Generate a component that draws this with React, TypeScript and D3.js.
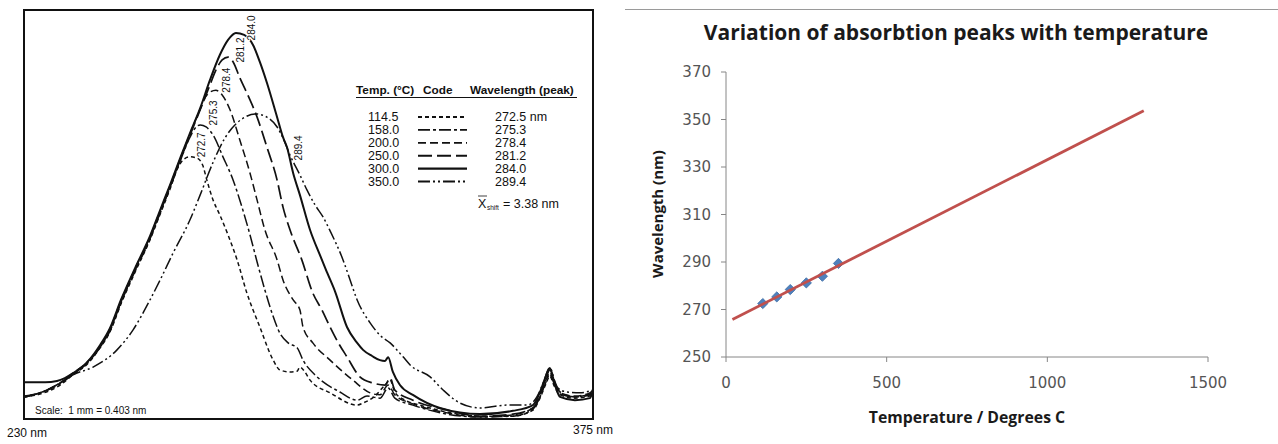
import React from "react";
import * as d3 from "d3";

// ---------- Left panel data (spectra, arbitrary absorbance units 0-100) ----------
const WAVELENGTH_RANGE = [230, 375];
const ABSORBANCE_RANGE = [0, 100];
const TEMP_LABELS = ["114.5", "158.0", "200.0", "250.0", "300.0", "350.0"];
const PEAK_TABLE_LABELS = ["272.5 nm", "275.3", "278.4", "281.2", "284.0", "289.4"];
const CURVE_PEAK_LABELS = ["272.7", "275.3", "278.4", "281.2", "284.0", "289.4"];
const MEAN_SHIFT_LABEL = "= 3.38 nm";
const SCALE_NOTE = "Scale:\u00A0 1 mm = 0.403 nm";

const SPECTRUM_114 = [
  [230.0, 5.4], [234.1, 6.1], [239.2, 8.3], [242.5, 10.8], [246.1, 13.4], [249.4, 17.4],
  [251.9, 21.3], [254.7, 28.1], [258.3, 35.9], [262.1, 43.8], [264.7, 50.1], [267.2, 56.2],
  [269.2, 61.4], [270.5, 63.3], [272.3, 64.1], [274.1, 63.8], [275.6, 61.9], [276.6, 58.4],
  [278.2, 53.5], [279.9, 49.9], [282.0, 45.0], [284.3, 38.9], [286.8, 30.8], [290.1, 22.5],
  [293.5, 14.4], [295.2, 12.0], [297.8, 11.5], [299.6, 11.7], [300.3, 12.7], [301.6, 11.5],
  [302.9, 9.5], [308.0, 6.4], [314.9, 3.4], [316.4, 3.9], [319.4, 5.6], [322.0, 8.3],
  [323.3, 9.5], [324.5, 6.6], [327.1, 4.6], [330.9, 3.4], [337.8, 1.7], [346.2, 0.7],
  [354.6, 0.7], [359.7, 2.2], [361.5, 5.1], [363.0, 8.6], [364.0, 10.5], [365.1, 8.1],
  [366.6, 5.9], [370.4, 5.1], [374.2, 5.6], [375.0, 6.4],
];
const SPECTRUM_158 = [
  [230.0, 5.4], [234.1, 6.4], [239.2, 8.6], [242.5, 11.0], [246.1, 13.7], [249.4, 17.6],
  [251.9, 21.5], [254.7, 28.4], [258.3, 36.2], [262.1, 44.0], [264.7, 50.4], [267.2, 56.5],
  [269.8, 63.1], [272.3, 68.9], [273.6, 71.1], [274.9, 71.9], [276.4, 71.4], [278.2, 69.4],
  [280.7, 64.1], [283.3, 58.4], [285.0, 53.5], [287.6, 45.0], [289.4, 38.4], [291.4, 31.5],
  [293.2, 25.9], [295.2, 21.0], [297.3, 18.6], [299.6, 17.4], [301.1, 14.4], [304.7, 10.3],
  [310.5, 6.6], [314.9, 4.6], [317.4, 5.6], [320.7, 5.1], [322.8, 7.6], [324.5, 5.1],
  [329.1, 3.4], [337.8, 1.2], [346.2, 0.5], [354.6, 0.7], [359.7, 2.4], [361.5, 5.4],
  [363.0, 9.0], [364.0, 11.0], [365.1, 8.6], [366.6, 6.1], [370.4, 5.4], [374.2, 6.1],
  [375.0, 6.8],
];
const SPECTRUM_200 = [
  [230.0, 5.4], [234.1, 6.4], [239.2, 8.8], [242.5, 11.2], [246.1, 13.9], [249.4, 17.8],
  [251.9, 22.0], [254.7, 28.9], [258.3, 36.7], [262.1, 44.5], [264.7, 50.9], [267.2, 57.0],
  [269.8, 63.6], [272.3, 69.7], [274.9, 75.8], [276.6, 79.2], [278.9, 80.4], [280.5, 79.2],
  [282.5, 75.6], [285.0, 68.2], [287.6, 60.1], [289.4, 53.5], [291.4, 46.2], [294.5, 38.9],
  [296.0, 34.0], [298.6, 29.1], [300.3, 26.7], [301.1, 22.5], [303.6, 18.6], [308.0, 14.4],
  [313.8, 9.5], [318.2, 6.4], [320.7, 5.9], [322.8, 8.3], [324.5, 5.9], [329.1, 3.7],
  [337.8, 1.5], [346.2, 0.5], [354.6, 1.0], [359.7, 2.7], [361.5, 5.6], [363.0, 9.5],
  [364.0, 11.5], [365.1, 9.0], [366.6, 6.4], [370.4, 5.6], [374.2, 6.4], [375.0, 7.1],
];
const SPECTRUM_250 = [
  [230.0, 5.6], [234.1, 6.4], [239.2, 8.8], [242.5, 11.0], [246.1, 13.7], [249.4, 17.6],
  [251.9, 21.8], [254.7, 28.6], [258.3, 36.4], [262.1, 44.3], [264.7, 50.6], [267.2, 56.7],
  [269.8, 63.3], [272.3, 69.4], [274.9, 75.6], [277.4, 81.7], [278.9, 85.3], [280.5, 87.8],
  [282.0, 88.5], [283.3, 87.3], [285.0, 83.4], [286.8, 79.7], [289.4, 73.8], [291.9, 66.5],
  [294.5, 58.4], [296.0, 51.8], [297.8, 46.2], [300.8, 38.9], [303.6, 30.8], [305.9, 26.7],
  [308.0, 22.5], [310.0, 18.8], [312.3, 15.2], [315.6, 10.3], [318.9, 8.8], [322.0, 8.3],
  [323.3, 10.0], [324.5, 7.1], [329.1, 4.6], [337.8, 2.2], [346.2, 0.7], [354.6, 1.2],
  [359.7, 2.7], [361.5, 5.9], [363.0, 10.0], [364.0, 12.0], [365.1, 9.5], [366.6, 6.6],
  [370.4, 5.4], [374.2, 5.9], [375.0, 6.6],
];
const SPECTRUM_300 = [
  [230.0, 9.0], [235.4, 9.0], [238.4, 9.3], [240.4, 10.0], [242.5, 11.2], [246.1, 13.9],
  [249.4, 18.1], [251.9, 22.2], [254.7, 29.1], [258.3, 36.9], [262.1, 44.7], [264.7, 51.1],
  [267.2, 57.2], [269.8, 63.8], [272.3, 69.9], [274.9, 76.0], [277.4, 82.9], [279.9, 89.0],
  [282.0, 92.7], [284.0, 94.4], [286.1, 93.9], [288.4, 91.4], [290.1, 87.3], [291.9, 82.2],
  [294.5, 73.8], [296.0, 68.9], [297.0, 66.5], [298.6, 60.1], [300.3, 54.8], [302.9, 46.2],
  [305.4, 40.1], [307.2, 35.9], [309.3, 31.1], [312.3, 22.5], [314.9, 18.6], [316.4, 16.9],
  [318.7, 15.4], [320.7, 14.4], [322.0, 14.2], [322.8, 15.1], [324.0, 11.5], [325.8, 8.3],
  [329.1, 5.9], [336.0, 2.7], [346.2, 1.2], [354.6, 2.0], [359.7, 3.4], [361.5, 6.6],
  [362.8, 10.0], [364.0, 12.5], [365.3, 8.3], [366.6, 5.4], [370.4, 4.6], [374.2, 5.1],
  [375.0, 7.1],
];
const SPECTRUM_350 = [
  [230.0, 5.4], [234.1, 6.4], [239.2, 8.8], [242.5, 10.8], [247.6, 12.7], [253.7, 16.9],
  [257.8, 21.8], [262.1, 29.1], [264.7, 34.0], [268.0, 40.6], [272.3, 48.7], [274.9, 54.8],
  [278.2, 62.8], [281.2, 68.7], [284.3, 72.4], [286.3, 73.8], [288.9, 74.6], [291.9, 73.8],
  [294.5, 71.4], [296.0, 68.7], [297.8, 64.5], [300.3, 59.7], [302.1, 56.0], [304.2, 52.3],
  [306.2, 49.4], [308.0, 46.0], [311.3, 38.9], [313.1, 34.0], [314.9, 29.1], [318.2, 23.5],
  [320.7, 20.5], [323.3, 18.6], [326.6, 15.2], [328.4, 13.2], [333.5, 10.3], [336.8, 7.1],
  [341.1, 3.9], [346.2, 2.7], [353.1, 3.4], [358.2, 3.4], [360.7, 5.4], [362.3, 8.8],
  [364.0, 12.5], [365.8, 7.8], [368.4, 6.6], [371.7, 6.4], [375.0, 7.1],
];
const SPECTRA = [SPECTRUM_114, SPECTRUM_158, SPECTRUM_200, SPECTRUM_250, SPECTRUM_300, SPECTRUM_350];

// ---------- Right panel data ----------
const TEMPERATURES = [114.5, 158.0, 200.0, 250.0, 300.0, 350.0];
const PEAK_WAVELENGTHS = [272.5, 275.3, 278.4, 281.2, 284.0, 289.4];
const TREND_RANGE = [20, 1300];
const X_TICKS = [0, 500, 1000, 1500];
const Y_TICKS = [250, 270, 290, 310, 330, 350, 370];
const CHART_TITLE = "Variation of absorbtion peaks with temperature";
const X_TITLE = "Temperature / Degrees C";
const Y_TITLE = "Wavelength (nm)";

// ---------- styles ----------
const SERIES_STYLE = [
  { dash: "4,3", width: 1.5 },
  { dash: "12,3,3,3", width: 1.5 },
  { dash: "8,4", width: 1.5 },
  { dash: "14,5", width: 1.7 },
  { dash: null, width: 2 },
  { dash: "12,3,2,3,2,3", width: 1.5 },
];
const LABEL_OFFSETS = [[12, -12], [13, -12], [11, -10], [12, -7], [16, -5], [43, 34]];
const INK = "#111";
const SANS = "'Liberation Sans', Arial, Helvetica, sans-serif";
const OPEN = "'Open Sans', sans-serif";

export default function App() {
  // left panel scales
  const xS = d3.scaleLinear().domain(WAVELENGTH_RANGE).range([24, 593]);
  const yS = d3.scaleLinear().domain(ABSORBANCE_RANGE).range([419, 10]);
  const spectrumLine = d3
    .line<number[]>()
    .x((d) => xS(d[0]))
    .y((d) => yS(d[1]))
    .curve(d3.curveMonotoneX);

  // right panel scales
  const xT = d3.scaleLinear().domain([0, 1500]).range([726, 1208]);
  const yW = d3.scaleLinear().domain([250, 370]).range([357, 72]);

  // least squares trendline
  const mx = d3.mean(TEMPERATURES) as number;
  const my = d3.mean(PEAK_WAVELENGTHS) as number;
  const sxy = d3.sum(TEMPERATURES.map((t, i) => (t - mx) * (PEAK_WAVELENGTHS[i] - my)));
  const sxx = d3.sum(TEMPERATURES.map((t) => (t - mx) * (t - mx)));
  const slope = sxy / sxx;
  const intercept = my - slope * mx;
  const trend = TREND_RANGE.map((t) => [t, intercept + slope * t]);
  const trendLine = d3
    .line<number[]>()
    .x((d) => xT(d[0]))
    .y((d) => yW(d[1]));
  const diamond = d3.symbol(d3.symbolSquare, 52)();

  const legendX = { temp: 368, codeStart: 418, codeEnd: 467, wl: 495 };
  const rowY = (i: number) => 117 + i * 12.9;

  return (
    <svg
      width={1278}
      height={444}
      style={{ position: "absolute", left: 0, top: 0, background: "#fff" }}
      xmlns="http://www.w3.org/2000/svg"
    >
      <rect x={0} y={0} width={1278} height={444} fill="#fff" />
      {/* ================= LEFT PANEL ================= */}
      <g>
        {SPECTRA.map((s, i) => (
          <path
            key={i}
            d={spectrumLine(s) as string}
            fill="none"
            stroke={INK}
            strokeWidth={SERIES_STYLE[i].width}
            strokeDasharray={SERIES_STYLE[i].dash || undefined}
            strokeLinejoin="round"
          />
        ))}
        {SPECTRA.map((s, i) => {
          const peak = s.reduce((a, b) => (b[1] > a[1] ? b : a));
          const px = xS(peak[0]) + LABEL_OFFSETS[i][0];
          const py = yS(peak[1]) + LABEL_OFFSETS[i][1];
          return (
            <text
              key={i}
              transform={`translate(${px},${py}) rotate(-90)`}
              textAnchor="middle"
              dominantBaseline="central"
              fontFamily={SANS}
              fontSize={10}
              fill={INK}
              style={{ paintOrder: "stroke" }}
              stroke="#fff"
              strokeWidth={2}
            >
              {CURVE_PEAK_LABELS[i]}
            </text>
          );
        })}
        <rect x={24} y={10} width={569} height={409} fill="none" stroke={INK} strokeWidth={2} />

        {/* legend table */}
        <g fontFamily={SANS} fill={INK}>
          <text x={356} y={94} fontSize={11.8} fontWeight="bold">Temp. (°C)</text>
          <text x={423} y={94} fontSize={11.8} fontWeight="bold">Code</text>
          <text x={470} y={94} fontSize={11.8} fontWeight="bold">Wavelength (peak)</text>
          <line x1={356} x2={577} y1={97.5} y2={97.5} stroke={INK} strokeWidth={1} />
          {TEMP_LABELS.map((t, i) => (
            <g key={i}>
              <text x={legendX.temp} y={rowY(i) + 4.3} fontSize={12.5}>{t}</text>
              <line
                x1={legendX.codeStart}
                x2={legendX.codeEnd}
                y1={rowY(i)}
                y2={rowY(i)}
                stroke={INK}
                strokeWidth={SERIES_STYLE[i].width + 0.3}
                strokeDasharray={SERIES_STYLE[i].dash || undefined}
              />
              <text x={legendX.wl} y={rowY(i) + 4.3} fontSize={12.5}>{PEAK_TABLE_LABELS[i]}</text>
            </g>
          ))}
          <g>
            <text x={478} y={208} fontSize={12.5}>X</text>
            <line x1={478} x2={487} y1={196} y2={196} stroke={INK} strokeWidth={0.8} />
            <text x={487} y={210} fontSize={6.5}>shift</text>
            <text x={503} y={208} fontSize={12.5}>{MEAN_SHIFT_LABEL}</text>
          </g>
        </g>
        <text x={35} y={414} fontFamily={SANS} fontSize={10} fill={INK}>{SCALE_NOTE}</text>
        <text x={7} y={437} fontFamily={SANS} fontSize={12} fill={INK}>
          {`${WAVELENGTH_RANGE[0]} nm`}
        </text>
        <text x={573} y={434} fontFamily={SANS} fontSize={12} fill={INK}>
          {`${WAVELENGTH_RANGE[1]} nm`}
        </text>
      </g>

      {/* ================= RIGHT PANEL ================= */}
      <g>
        <line x1={625} x2={1278} y1={9.5} y2={9.5} stroke="#9a9a9a" strokeWidth={1} />
        <text
          x={956}
          y={40}
          textAnchor="middle"
          fontFamily={OPEN}
          fontWeight="bold"
          fontSize={21}
          fill="#1a1a1a"
        >
          {CHART_TITLE}
        </text>
        {/* y axis */}
        <line x1={xT(0)} x2={xT(0)} y1={yW(370)} y2={yW(250)} stroke="#868686" />
        {Y_TICKS.map((t) => (
          <g key={t}>
            <line x1={xT(0) - 5} x2={xT(0)} y1={yW(t)} y2={yW(t)} stroke="#868686" />
            <text
              x={xT(0) - 15}
              y={yW(t)}
              textAnchor="end"
              dominantBaseline="central"
              fontFamily="'DejaVu Sans', sans-serif"
              fontSize={15}
              fill="#555"
            >
              {t}
            </text>
          </g>
        ))}
        {/* x axis */}
        <line x1={xT(0)} x2={xT(1500)} y1={yW(250)} y2={yW(250)} stroke="#868686" />
        {X_TICKS.map((t) => (
          <g key={t}>
            <line x1={xT(t)} x2={xT(t)} y1={yW(250)} y2={yW(250) + 5} stroke="#868686" />
            <text
              x={xT(t)}
              y={yW(250) + 26}
              textAnchor="middle"
              dominantBaseline="central"
              fontFamily="'DejaVu Sans', sans-serif"
              fontSize={15}
              fill="#555"
            >
              {t}
            </text>
          </g>
        ))}
        <text
          x={967}
          y={423}
          textAnchor="middle"
          fontFamily={OPEN}
          fontWeight="bold"
          fontSize={15.8}
          fill="#1a1a1a"
        >
          {X_TITLE}
        </text>
        <text
          transform={`translate(663,${214}) rotate(-90)`}
          textAnchor="middle"
          fontFamily={OPEN}
          fontWeight="bold"
          fontSize={15}
          fill="#1a1a1a"
        >
          {Y_TITLE}
        </text>
        {/* markers */}
        {TEMPERATURES.map((t, i) => (
          <path
            key={i}
            d={diamond as string}
            transform={`translate(${xT(t)},${yW(PEAK_WAVELENGTHS[i])}) rotate(45)`}
            fill="#4F81BD"
            stroke="#3f6fa8"
            strokeWidth={0.8}
          />
        ))}
        {/* trendline */}
        <path d={trendLine(trend) as string} fill="none" stroke="#C0504D" strokeWidth={2.8} />
      </g>
    </svg>
  );
}
